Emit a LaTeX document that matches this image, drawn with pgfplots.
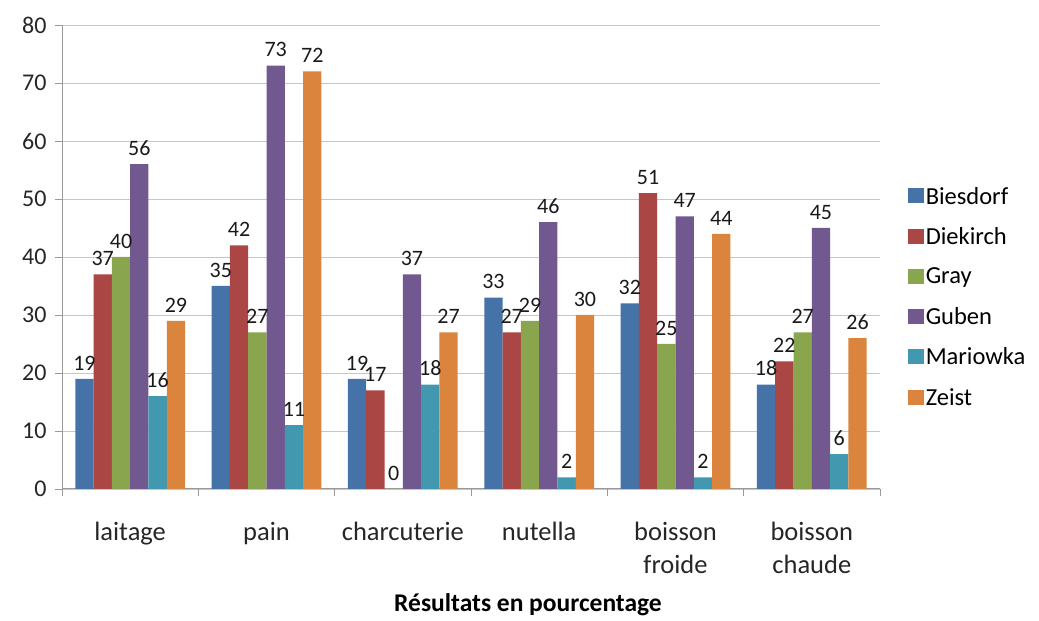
\documentclass[border=0pt]{standalone}
\usepackage{pgfplots}
\pgfplotsset{compat=1.18}
\usepackage{fontspec}
\setmainfont{Carlito}
\definecolor{cA}{HTML}{4572A7}
\definecolor{cB}{HTML}{AA4643}
\definecolor{cC}{HTML}{89A54E}
\definecolor{cD}{HTML}{71588F}
\definecolor{cE}{HTML}{4198AF}
\definecolor{cF}{HTML}{DB843D}
\begin{document}
\begin{tikzpicture}
\begin{axis}[
  name=ax,
  scale only axis,
  width=818pt, height=464pt,
  ybar=0pt, bar width=18.3pt,
  xmin=-0.5, xmax=5.5,
  ymin=0, ymax=80,
  ytick={0,10,...,80},
  xtick={0,...,5},
  xticklabels={laitage,pain,charcuterie,nutella,{boisson\\froide},{boisson\\chaude}},
  xticklabel style={align=center, font=\fontsize{26.5}{33}\selectfont, yshift=-23pt, text=black!85},
  yticklabel style={font=\fontsize{24}{26}\selectfont, xshift=-5pt, text=black!85},
  /pgf/number format/assume math mode=true,
  minor xtick={-0.5,0.5,...,5.5},
  major x tick style={draw=none},
  tick align=outside,
  major tick length=7pt, minor tick length=7pt,
  every tick/.style={gray!80, line width=0.8pt},
  ymajorgrids, grid style={gray!45, line width=0.8pt},
  axis x line*=bottom, axis y line*=left,
  axis line style={gray!80, line width=1pt},
  x axis line style={-}, y axis line style={-},
  xlabel={\fontsize{25.5}{28}\selectfont\bfseries Résultats en pourcentage},
  xlabel style={at={(0.5,0)}, anchor=center, yshift=-116pt, xshift=57pt},
  nodes near coords,
  every node near coord/.append style={font=\fontsize{22}{24}\selectfont, black!90, yshift=5pt, inner xsep=1pt},
  legend style={at={(1.03,0.414)}, anchor=west, draw=none, fill=none,
    font=\fontsize{24.5}{26}\selectfont, row sep=18pt,
    /tikz/every even column/.append style={column sep=3pt}},
  legend image code/.code={\fill[#1] (0pt,-7pt) rectangle (16pt,8pt);},
  legend cell align=left,
  clip=false,
]
\addplot[fill=cA, draw=none] coordinates {(0,19) (1,35) (2,19) (3,33) (4,32) (5,18)};
\addplot[fill=cB, draw=none] coordinates {(0,37) (1,42) (2,17) (3,27) (4,51) (5,22)};
\addplot[fill=cC, draw=none] coordinates {(0,40) (1,27) (2,0) (3,29) (4,25) (5,27)};
\addplot[fill=cD, draw=none] coordinates {(0,56) (1,73) (2,37) (3,46) (4,47) (5,45)};
\addplot[fill=cE, draw=none] coordinates {(0,16) (1,11) (2,18) (3,2) (4,2) (5,6)};
\addplot[fill=cF, draw=none] coordinates {(0,29) (1,72) (2,27) (3,30) (4,44) (5,26)};
\legend{Biesdorf,Diekirch,Gray,Guben,Mariowka,Zeist}
\end{axis}
\pgfresetboundingbox
\path ([xshift=-62pt,yshift=-132pt]ax.south west) rectangle ([xshift=159pt,yshift=25pt]ax.north east);
\end{tikzpicture}
\end{document}
